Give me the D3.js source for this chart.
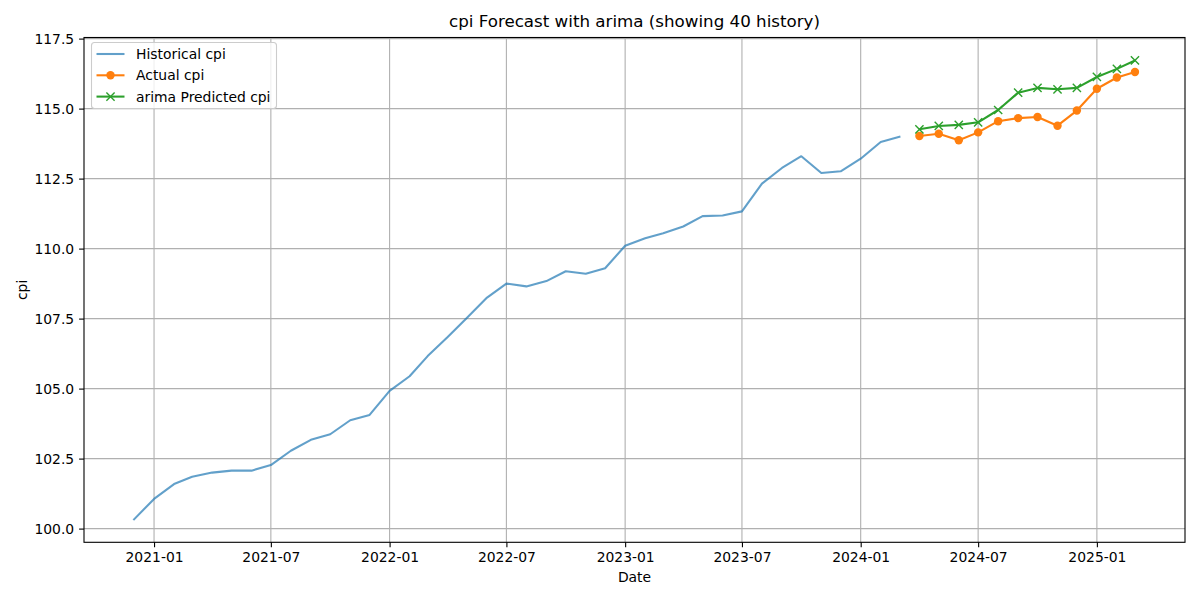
<!DOCTYPE html>
<html>
<head>
<meta charset="utf-8">
<script src="https://cdn.jsdelivr.net/npm/d3@7"></script>
<style>
  body { margin: 0; background: #fff; }
  svg { font-family: "DejaVu Sans", sans-serif; }
</style>
</head>
<body>
<svg id="chart" width="1200" height="600"></svg>
<script>
// ---- data ----
const histStart = "2020-12-01";
const historicalCpi = [
  100.33, 101.06, 101.59, 101.85, 102.00, 102.07, 102.07, 102.27, 102.78, 103.17,
  103.37, 103.87, 104.06, 104.92, 105.44, 106.16, 106.84, 107.53, 108.25, 108.75,
  108.65, 108.84, 109.19, 109.10, 109.30, 110.10, 110.37, 110.55, 110.79, 111.16,
  111.18, 111.33, 112.32, 112.88, 113.30, 112.70, 112.76, 113.21, 113.81, 113.99
];
const forecastStart = "2024-04-01";
const actualCpi = [114.02, 114.10, 113.87, 114.15, 114.55, 114.66, 114.70, 114.39, 114.93, 115.71, 116.11, 116.31];
const predictedCpi = [114.26, 114.38, 114.42, 114.51, 114.95, 115.57, 115.74, 115.69, 115.74, 116.13, 116.42, 116.72];
const yTicks = [100.0, 102.5, 105.0, 107.5, 110.0, 112.5, 115.0, 117.5];
const titleText = "cpi Forecast with arima (showing 40 history)";
const legendLabels = ["Historical cpi", "Actual cpi", "arima Predicted cpi"];

// ---- build dated series ----
const parse = d3.utcParse("%Y-%m-%d");
const monthsFrom = (start, vals) => vals.map((v, i) => ({ date: d3.utcMonth.offset(parse(start), i), value: v }));
const hist = monthsFrom(histStart, historicalCpi);
const actual = monthsFrom(forecastStart, actualCpi);
const pred = monthsFrom(forecastStart, predictedCpi);
const all = hist.concat(actual, pred);

// ---- layout ----
const L = 84, R = 1185, T = 37.5, B = 542.3;
const svg = d3.select("#chart");

const [dmin, dmax] = d3.extent(all, d => d.date);
const dpad = (dmax - dmin) * 0.05;
const x = d3.scaleUtc().domain([new Date(+dmin - dpad), new Date(+dmax + dpad)]).range([L, R]);
const [vmin, vmax] = d3.extent(all, d => d.value);
const vpad = (vmax - vmin) * 0.05;
const y = d3.scaleLinear().domain([vmin - vpad, vmax + vpad]).range([B, T]);

const xTicks = d3.utcMonth.every(6).range(x.domain()[0], x.domain()[1]);

// grid
const grid = svg.append("g");
grid.selectAll(".gx").data(xTicks).join("line")
  .attr("x1", d => x(d)).attr("x2", d => x(d)).attr("y1", T).attr("y2", B)
  .attr("stroke", "#b0b0b0").attr("stroke-width", 1.1);
grid.selectAll(".gy").data(yTicks).join("line")
  .attr("x1", L).attr("x2", R).attr("y1", d => y(d)).attr("y2", d => y(d))
  .attr("stroke", "#b0b0b0").attr("stroke-width", 1.1);

// axes
const xAxis = d3.axisBottom(x).tickValues(xTicks).tickFormat(d3.utcFormat("%Y-%m")).tickSize(4.9).tickPadding(4.9);
const yAxis = d3.axisLeft(y).tickValues(yTicks).tickFormat(d3.format(".1f")).tickSize(4.9).tickPadding(4.9);
const gx = svg.append("g").attr("transform", `translate(0,${B})`).call(xAxis);
const gy = svg.append("g").attr("transform", `translate(${L},0)`).call(yAxis);
[gx, gy].forEach(g => {
  g.select(".domain").remove();
  g.selectAll(".tick line").attr("stroke", "#000").attr("stroke-width", 1.1);
  g.selectAll(".tick text").attr("fill", "#000").style("font-size", "13.9px").style("font-family", "DejaVu Sans");
});

// lines
const line = d3.line().x(d => x(d.date)).y(d => y(d.value));
const plot = svg.append("g");
plot.append("path").datum(hist).attr("d", line).attr("fill", "none")
  .attr("stroke", "#1f77b4").attr("stroke-opacity", 0.7).attr("stroke-width", 2.08)
  .attr("stroke-linejoin", "round").attr("stroke-linecap", "square");
plot.append("path").datum(actual).attr("d", line).attr("fill", "none")
  .attr("stroke", "#ff7f0e").attr("stroke-width", 2.08).attr("stroke-linejoin", "round");
plot.selectAll(".dot").data(actual).join("circle")
  .attr("cx", d => x(d.date)).attr("cy", d => y(d.value)).attr("r", 4.2).attr("fill", "#ff7f0e");
plot.append("path").datum(pred).attr("d", line).attr("fill", "none")
  .attr("stroke", "#2ca02c").attr("stroke-width", 2.08).attr("stroke-linejoin", "round");
const xs = 4.1;
const xMark = (cx, cy) => `M${cx - xs},${cy - xs}L${cx + xs},${cy + xs}M${cx - xs},${cy + xs}L${cx + xs},${cy - xs}`;
plot.selectAll(".xm").data(pred).join("path")
  .attr("d", d => xMark(x(d.date), y(d.value))).attr("stroke", "#2ca02c").attr("stroke-width", 1.4).attr("fill", "none");

// spines
svg.append("rect").attr("x", L).attr("y", T).attr("width", R - L).attr("height", B - T)
  .attr("fill", "none").attr("stroke", "#000").attr("stroke-width", 1.1);

// title & labels
svg.append("text").attr("x", (L + R) / 2).attr("y", 27).attr("text-anchor", "middle")
  .style("font-size", "16.7px").text(titleText);
svg.append("text").attr("x", (L + R) / 2).attr("y", 582).attr("text-anchor", "middle")
  .style("font-size", "13.9px").text("Date");
svg.append("text").attr("transform", `translate(27,${(T + B) / 2}) rotate(-90)`).attr("text-anchor", "middle")
  .style("font-size", "13.9px").text("cpi");

// legend
const lg = svg.append("g");
lg.append("rect").attr("x", 91.5).attr("y", 42.5).attr("width", 185).attr("height", 66).attr("rx", 3)
  .attr("fill", "#fff").attr("fill-opacity", 0.8).attr("stroke", "#cccccc").attr("stroke-width", 1.1);
const colors = ["#1f77b4", "#ff7f0e", "#2ca02c"];
const rowsY = [54, 75.3, 96.6];
legendLabels.forEach((lab, i) => {
  const yy = rowsY[i];
  lg.append("line").attr("x1", 96.5).attr("x2", 124.5).attr("y1", yy).attr("y2", yy)
    .attr("stroke", colors[i]).attr("stroke-width", 2.08).attr("stroke-opacity", i === 0 ? 0.7 : 1);
  if (i === 1) lg.append("circle").attr("cx", 110.5).attr("cy", yy).attr("r", 4.2).attr("fill", colors[i]);
  if (i === 2) lg.append("path").attr("d", xMark(110.5, yy)).attr("stroke", colors[i]).attr("stroke-width", 1.4);
  lg.append("text").attr("x", 136).attr("y", yy + 5).style("font-size", "13.9px").text(lab);
});
</script>
</body>
</html>
